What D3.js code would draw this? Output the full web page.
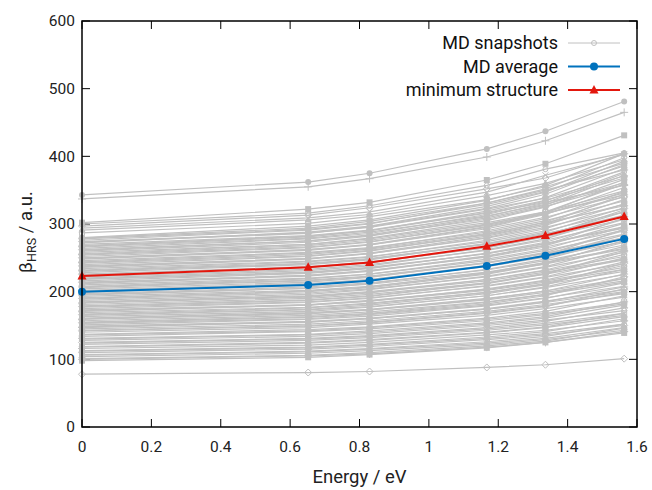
<!DOCTYPE html>
<html>
<head>
<meta charset="utf-8">
<script src="https://cdn.jsdelivr.net/npm/d3@7"></script>
<style>
  body { margin: 0; background: #fff; }
  svg { font-family: Roboto, "Noto Sans", sans-serif; }
  .tick-label { font-size: 15.5px; fill: #222; }
  .axis-title { font-size: 18.5px; fill: #222; }
  .legend-text { font-size: 18px; fill: #111; }
</style>
</head>
<body>
<svg id="chart"></svg>
<script>
// photon energies (eV) at which beta was computed
const energies = [0, 0.652, 0.829, 1.167, 1.336, 1.563];

// beta_HRS of each MD snapshot, one row per snapshot
const snapshotValues = [
  [343, 362, 375, 411, 437, 481],
  [337, 355, 367, 399, 423, 465],
  [302, 322, 332, 365, 389, 431],
  [300, 316, 327, 357, 381, 405],
  [297, 313, 324, 352, 368, 404],
  [294, 309, 318, 347, 372, 403],
  [291, 306, 314, 342, 360, 395],
  [287, 301, 311, 336, 355, 390],
  [280, 297, 306, 335, 357, 404],
  [279, 294, 304, 331, 350, 380],
  [278, 292, 301, 329, 348, 386],
  [276, 291, 300, 331, 352, 398],
  [274, 287, 295, 322, 338, 371],
  [273, 286, 296, 323, 344, 388],
  [272, 288, 297, 326, 347, 393],
  [270, 283, 291, 317, 335, 368],
  [268, 282, 290, 319, 339, 382],
  [267, 281, 290, 316, 332, 357],
  [266, 279, 288, 312, 329, 361],
  [264, 278, 286, 314, 334, 377],
  [262, 275, 283, 307, 326, 358],
  [261, 275, 284, 311, 331, 375],
  [260, 273, 282, 309, 328, 372],
  [258, 270, 278, 302, 318, 349],
  [256, 270, 279, 305, 325, 366],
  [255, 268, 276, 300, 316, 343],
  [254, 266, 274, 298, 315, 346],
  [252, 265, 273, 299, 318, 359],
  [250, 262, 269, 293, 310, 340],
  [249, 262, 270, 296, 316, 362],
  [248, 261, 269, 295, 314, 354],
  [246, 258, 265, 288, 305, 334],
  [244, 257, 264, 290, 308, 348],
  [243, 255, 263, 286, 302, 327],
  [242, 253, 261, 284, 300, 329],
  [240, 252, 260, 285, 303, 341],
  [238, 249, 256, 279, 295, 323],
  [237, 249, 257, 282, 300, 344],
  [236, 248, 256, 280, 298, 336],
  [234, 245, 252, 274, 290, 318],
  [232, 244, 251, 276, 293, 330],
  [231, 242, 249, 271, 286, 311],
  [230, 241, 248, 270, 285, 313],
  [228, 240, 247, 271, 288, 324],
  [226, 237, 244, 265, 281, 307],
  [225, 236, 243, 265, 282, 321],
  [224, 236, 243, 266, 283, 318],
  [222, 233, 240, 261, 276, 302],
  [220, 231, 238, 262, 278, 313],
  [219, 229, 236, 256, 271, 294],
  [218, 228, 235, 256, 271, 296],
  [216, 227, 234, 257, 273, 307],
  [214, 224, 231, 251, 266, 291],
  [213, 224, 231, 253, 269, 309],
  [212, 223, 230, 252, 268, 301],
  [210, 220, 226, 246, 261, 285],
  [208, 219, 226, 248, 263, 296],
  [207, 217, 223, 243, 257, 279],
  [206, 216, 222, 242, 256, 280],
  [204, 214, 221, 243, 258, 290],
  [202, 212, 218, 237, 251, 274],
  [201, 211, 218, 239, 254, 292],
  [199, 210, 216, 238, 253, 284],
  [197, 207, 213, 232, 246, 269],
  [196, 205, 211, 229, 243, 264],
  [195, 205, 212, 233, 248, 279],
  [193, 202, 208, 227, 241, 263],
  [191, 201, 207, 228, 243, 273],
  [190, 200, 206, 226, 241, 276],
  [189, 198, 204, 222, 236, 258],
  [187, 196, 203, 223, 237, 267],
  [185, 194, 200, 218, 231, 252],
  [184, 193, 199, 216, 229, 248],
  [183, 192, 198, 218, 232, 261],
  [181, 190, 196, 213, 226, 247],
  [179, 188, 194, 213, 227, 255],
  [178, 187, 193, 212, 226, 259],
  [177, 185, 191, 208, 221, 241],
  [175, 184, 190, 209, 222, 250],
  [173, 181, 187, 203, 216, 236],
  [172, 180, 186, 202, 214, 233],
  [171, 180, 186, 204, 217, 244],
  [169, 177, 183, 199, 211, 230],
  [167, 176, 182, 199, 212, 239],
  [166, 174, 180, 197, 210, 242],
  [165, 173, 178, 194, 206, 225],
  [163, 171, 177, 194, 207, 233],
  [161, 169, 174, 190, 201, 219],
  [160, 168, 173, 188, 199, 216],
  [159, 167, 173, 189, 201, 226],
  [157, 165, 170, 185, 196, 214],
  [155, 163, 168, 184, 196, 220],
  [154, 162, 167, 182, 194, 222],
  [153, 160, 166, 180, 191, 208],
  [151, 159, 164, 179, 190, 213],
  [149, 156, 161, 175, 186, 203],
  [148, 155, 160, 174, 184, 200],
  [147, 155, 160, 174, 185, 207],
  [145, 152, 157, 171, 181, 197],
  [143, 150, 155, 169, 179, 199],
  [142, 149, 154, 168, 178, 204],
  [140, 147, 152, 165, 175, 192],
  [137, 144, 148, 161, 171, 194],
  [136, 142, 147, 159, 168, 184],
  [134, 141, 145, 157, 166, 182],
  [131, 137, 142, 154, 163, 185],
  [130, 136, 140, 152, 161, 180],
  [128, 134, 138, 150, 158, 172],
  [125, 131, 135, 147, 156, 176],
  [124, 130, 134, 145, 153, 168],
  [122, 128, 132, 143, 151, 165],
  [119, 125, 129, 140, 148, 168],
  [118, 124, 128, 139, 147, 163],
  [116, 121, 125, 136, 143, 157],
  [113, 118, 122, 133, 141, 160],
  [112, 117, 121, 131, 138, 152],
  [110, 115, 119, 129, 136, 150],
  [107, 112, 116, 126, 134, 152],
  [106, 111, 115, 124, 131, 147],
  [104, 109, 113, 122, 129, 143],
  [101, 106, 110, 120, 127, 146],
  [100, 105, 108, 118, 125, 141],
  [98, 103, 107, 117, 125, 139],
  [78, 80.5, 82, 88, 92, 101]
];

const mdAverage = [200, 210, 216, 238, 253, 278];
const minimumStructure = [223, 236, 243, 267, 283, 311];

const xTicks = [0, 0.2, 0.4, 0.6, 0.8, 1, 1.2, 1.4, 1.6];
const yTicks = [0, 100, 200, 300, 400, 500, 600];
const legendLabels = ['MD snapshots', 'MD average', 'minimum structure'];

const width = 652, height = 490;
const margin = {top: 21, right: 15, bottom: 63, left: 82};
const innerW = width - margin.left - margin.right;
const innerH = height - margin.top - margin.bottom;

const grey = '#c0c0c0', blue = '#0072bd', red = '#e3170d';

const svg = d3.select('#chart')
  .attr('width', width)
  .attr('height', height);

const chart = svg.append('g')
  .attr('transform', `translate(${margin.left},${margin.top})`);

const xScale = d3.scaleLinear().domain([0, 1.6]).range([0, innerW]);
const yScale = d3.scaleLinear().domain([0, 600]).range([innerH, 0]);

const line = d3.line()
  .x((d, i) => xScale(energies[i]))
  .y(d => yScale(d));

// gnuplot-like point types, cycled over the snapshots
const pointTypes = ['circleFill', 'plus', 'squareFill', 'circleOpen', 'diamondOpen', 'cross', 'triFill', 'squareOpen'];

function drawMarker(g, type, x, y, color, s) {
  if (type === 'circleFill') {
    g.append('circle').attr('cx', x).attr('cy', y).attr('r', s).attr('fill', color);
  } else if (type === 'circleOpen') {
    g.append('circle').attr('cx', x).attr('cy', y).attr('r', s - 0.5)
      .attr('fill', 'none').attr('stroke', color).attr('stroke-width', 1);
  } else if (type === 'plus') {
    g.append('path').attr('d', `M${x - s - 1},${y}H${x + s + 1}M${x},${y - s - 1}V${y + s + 1}`)
      .attr('stroke', color).attr('stroke-width', 1);
  } else if (type === 'cross') {
    g.append('path').attr('d', `M${x - s},${y - s}L${x + s},${y + s}M${x - s},${y + s}L${x + s},${y - s}`)
      .attr('stroke', color).attr('stroke-width', 1);
  } else if (type === 'squareFill') {
    g.append('rect').attr('x', x - s).attr('y', y - s).attr('width', 2 * s).attr('height', 2 * s).attr('fill', color);
  } else if (type === 'squareOpen') {
    g.append('rect').attr('x', x - s + 0.5).attr('y', y - s + 0.5).attr('width', 2 * s - 1).attr('height', 2 * s - 1)
      .attr('fill', 'none').attr('stroke', color);
  } else if (type === 'diamondOpen') {
    g.append('path').attr('d', `M${x},${y - s - 0.5}L${x + s + 0.5},${y}L${x},${y + s + 0.5}L${x - s - 0.5},${y}Z`)
      .attr('fill', 'none').attr('stroke', color);
  } else if (type === 'triFill') {
    g.append('path').attr('d', `M${x},${y - s - 1}L${x + s + 0.5},${y + s - 0.5}L${x - s - 0.5},${y + s - 0.5}Z`)
      .attr('fill', color);
  }
}

// tick marks inside the frame on all four sides
const tickLen = 8;
const ticksG = chart.append('g').attr('stroke', '#000').attr('stroke-width', 1);
xTicks.forEach(t => {
  const x = xScale(t);
  ticksG.append('line').attr('x1', x).attr('x2', x).attr('y1', innerH).attr('y2', innerH - tickLen);
  ticksG.append('line').attr('x1', x).attr('x2', x).attr('y1', 0).attr('y2', tickLen);
});
yTicks.forEach(t => {
  const y = yScale(t);
  ticksG.append('line').attr('x1', 0).attr('x2', tickLen).attr('y1', y).attr('y2', y);
  ticksG.append('line').attr('x1', innerW).attr('x2', innerW - tickLen).attr('y1', y).attr('y2', y);
});

// snapshot lines
const snapG = chart.append('g');
snapshotValues.forEach(vals => {
  snapG.append('path')
    .attr('d', line(vals))
    .attr('fill', 'none')
    .attr('stroke', grey)
    .attr('stroke-width', 1.2);
});
snapshotValues.forEach((vals, k) => {
  const type = k === snapshotValues.length - 1 ? 'diamondOpen' : pointTypes[k % pointTypes.length];
  vals.forEach((v, i) => drawMarker(snapG, type, xScale(energies[i]), yScale(v), grey, 3));
});

// average and minimum structure
const avgG = chart.append('g');
avgG.append('path').attr('d', line(mdAverage))
  .attr('fill', 'none').attr('stroke', blue).attr('stroke-width', 2);
mdAverage.forEach((v, i) => drawMarker(avgG, 'circleFill', xScale(energies[i]), yScale(v), blue, 4));

const minG = chart.append('g');
minG.append('path').attr('d', line(minimumStructure))
  .attr('fill', 'none').attr('stroke', red).attr('stroke-width', 2);
minimumStructure.forEach((v, i) => drawMarker(minG, 'triFill', xScale(energies[i]), yScale(v), red, 4));

// frame
chart.append('rect')
  .attr('width', innerW).attr('height', innerH)
  .attr('fill', 'none').attr('stroke', '#000').attr('stroke-width', 1.5);

// tick labels
xTicks.forEach(t => {
  chart.append('text').attr('class', 'tick-label')
    .attr('x', xScale(t)).attr('y', innerH + 25)
    .attr('text-anchor', 'middle')
    .text(d3.format('~g')(t));
});
yTicks.forEach(t => {
  chart.append('text').attr('class', 'tick-label')
    .attr('x', -7).attr('y', yScale(t)).attr('dy', '0.35em')
    .attr('text-anchor', 'end')
    .text(t);
});

// axis titles
svg.append('text').attr('class', 'axis-title')
  .attr('x', margin.left + innerW / 2).attr('y', 483)
  .attr('text-anchor', 'middle')
  .text('Energy / eV');

const yTitle = svg.append('text').attr('class', 'axis-title')
  .attr('transform', `translate(32,${margin.top + innerH / 2 + 8}) rotate(-90)`)
  .attr('text-anchor', 'middle');
yTitle.append('tspan').text('β');
yTitle.append('tspan').attr('font-size', '12.5px').attr('dy', 4).text('HRS');
yTitle.append('tspan').attr('dy', -4).text(' / a.u.');

// legend
const legendColors = [grey, blue, red];
const legendMarkers = ['circleOpen', 'circleFill', 'triFill'];
legendLabels.forEach((lab, i) => {
  const y = 43 + i * 23.5;
  svg.append('text').attr('class', 'legend-text')
    .attr('x', 558).attr('y', y).attr('dy', '0.35em')
    .attr('text-anchor', 'end')
    .text(lab);
  svg.append('line').attr('x1', 568).attr('x2', 620).attr('y1', y).attr('y2', y)
    .attr('stroke', legendColors[i]).attr('stroke-width', i === 0 ? 1 : 2);
  drawMarker(svg, legendMarkers[i], 594, y, legendColors[i], i === 0 ? 3 : 4);
});
</script>
</body>
</html>
